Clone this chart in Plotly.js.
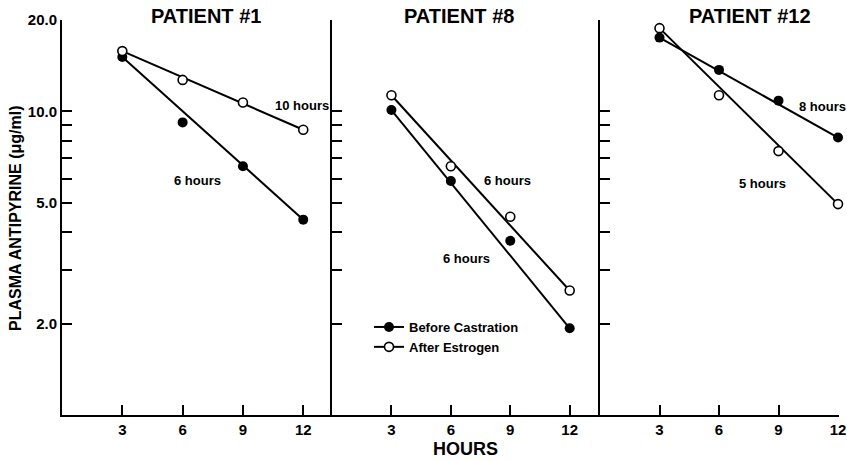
<!DOCTYPE html>
<html>
<head>
<meta charset="utf-8">
<script src="https://cdn.plot.ly/plotly-3.0.1.min.js"></script>
<style>html,body{margin:0;padding:0;background:#fff;}#chart{width:847px;height:461px;}</style>
</head>
<body>
<div id="chart"></div>
<script>
// ---- data ----
const hours = [3, 6, 9, 12];
const patients = ['PATIENT #1', 'PATIENT #8', 'PATIENT #12'];
const beforeP1 = [15.1, 9.2, 6.6, 4.4];
const afterP1 = [15.8, 12.7, 10.7, 8.7];
const beforeP8 = [10.1, 5.9, 3.75, 1.93];
const afterP8 = [11.3, 6.6, 4.5, 2.57];
const beforeP12 = [17.5, 13.7, 10.85, 8.2];
const afterP12 = [18.8, 11.3, 7.4, 4.95];
const halfLifeLabels = ['6 hours', '10 hours', '6 hours', '6 hours', '8 hours', '5 hours'];
const seriesNames = ['Before Castration', 'After Estrogen'];
const yTickVals = [2, 3, 4, 5, 6, 7, 8, 9, 10, 20];
const yTickText = ['2.0', '', '', '5.0', '', '', '', '', '10.0', '20.0'];
const xTickVals = [3, 6, 9, 12];

// ---- layout geometry ----
const W = 847, H = 461, L = 62, R = 8, T = 20, B = 46;
const PW = W - L - R, PH = H - T - B;
const px = x => (x - L) / PW;
const py = y => (H - B - y) / PH;
const FONT = 'Liberation Sans, Arial, sans-serif';

const beforeData = [beforeP1, beforeP8, beforeP12];
const afterData = [afterP1, afterP8, afterP12];
const panelEdges = [[62, 332], [332, 600], [600, W - R]];
const xRanges = [[0, 13.43], [0, 13.53], [0, 12.05]];

const filledMarker = {symbol: 'circle', size: 10, color: '#000'};
const openMarker = {symbol: 'circle', size: 9, color: '#fff', line: {color: '#000', width: 1.6}};
const lineStyle = {color: '#000', width: 2};

const traces = [];
for (let i = 0; i < 3; i++) {
  const xa = i === 0 ? 'x' : 'x' + (i + 1);
  const ya = i === 0 ? 'y' : 'y' + (i + 1);
  [beforeData[i], afterData[i]].forEach(vals => {
    traces.push({x: [hours[0], hours[hours.length - 1]], y: [vals[0], vals[vals.length - 1]],
      mode: 'lines', line: lineStyle, xaxis: xa, yaxis: ya, showlegend: false, hoverinfo: 'skip', cliponaxis: false});
  });
  traces.push({x: hours, y: beforeData[i], mode: 'markers', marker: filledMarker,
    xaxis: xa, yaxis: ya, showlegend: false, cliponaxis: false});
  traces.push({x: hours, y: afterData[i], mode: 'markers', marker: openMarker,
    xaxis: xa, yaxis: ya, showlegend: false, cliponaxis: false});
}
// legend entries
traces.push({x: [null], y: [null], mode: 'lines+markers', name: seriesNames[0],
  marker: filledMarker, line: lineStyle, xaxis: 'x2', yaxis: 'y2', showlegend: true});
traces.push({x: [null], y: [null], mode: 'lines+markers', name: seriesNames[1],
  marker: openMarker, line: lineStyle, xaxis: 'x2', yaxis: 'y2', showlegend: true});

const layout = {
  width: W, height: H,
  margin: {l: L, r: R, t: T, b: B, pad: 0},
  paper_bgcolor: '#fff', plot_bgcolor: '#fff',
  font: {family: FONT, color: '#000', size: 14, weight: 'bold'},
  showlegend: true,
  legend: {x: px(369), y: py(312), xanchor: 'left', yanchor: 'top', bgcolor: 'rgba(0,0,0,0)',
    font: {family: FONT, size: 13, weight: 'bold', color: '#000'}, itemwidth: 30, tracegroupgap: 0},
  annotations: [],
  hovermode: false
};

for (let i = 0; i < 3; i++) {
  const sfx = i === 0 ? '' : String(i + 1);
  layout['xaxis' + sfx] = {
    domain: [px(panelEdges[i][0]), px(panelEdges[i][1])],
    range: xRanges[i], anchor: 'y' + sfx,
    showline: true, linewidth: 2, linecolor: '#000', showgrid: false, zeroline: false,
    tickvals: xTickVals, ticktext: xTickVals.map(String),
    ticks: 'inside', ticklen: 10, tickwidth: 2, tickcolor: '#000',
    tickfont: {family: FONT, size: 15, weight: 'bold', color: '#000'}, ticklabelstandoff: 0
  };
  layout['yaxis' + sfx] = {
    type: 'log', range: [0, Math.log10(20)], anchor: 'x' + sfx, domain: [0, 1],
    showline: true, linewidth: 2, linecolor: '#000', showgrid: false, zeroline: false,
    tickvals: yTickVals, ticktext: yTickText, showticklabels: i === 0,
    ticks: 'inside', ticklen: 10, tickwidth: 2, tickcolor: '#000',
    tickfont: {family: FONT, size: 15, weight: 'bold', color: '#000'}, ticklabelstandoff: 0
  };
}

const titlePos = [[206, 16], [459, 16], [750, 16]];
patients.forEach((t, i) => {
  layout.annotations.push({text: t, xref: 'paper', yref: 'paper', x: px(titlePos[i][0]), y: py(titlePos[i][1]),
    xanchor: 'center', yanchor: 'middle', showarrow: false,
    font: {family: FONT, size: 20, weight: 'bold', color: '#000'}});
});
const labelPos = [[197, 180], [302, 105], [467, 258], [507, 181], [822, 107], [762, 183]];
halfLifeLabels.forEach((t, i) => {
  layout.annotations.push({text: t, xref: 'paper', yref: 'paper', x: px(labelPos[i][0]), y: py(labelPos[i][1]),
    xanchor: 'center', yanchor: 'middle', showarrow: false,
    font: {family: FONT, size: 13, weight: 'bold', color: '#000'}});
});
layout.annotations.push({text: 'HOURS', xref: 'paper', yref: 'paper', x: px(465), y: py(449),
  xanchor: 'center', yanchor: 'middle', showarrow: false,
  font: {family: FONT, size: 18, weight: 'bold', color: '#000'}});
layout.annotations.push({text: 'PLASMA ANTIPYRINE (\u03bcg/ml)', xref: 'paper', yref: 'paper', x: px(15), y: py(218),
  xanchor: 'center', yanchor: 'middle', textangle: -90, showarrow: false,
  font: {family: FONT, size: 16, weight: 'bold', color: '#000'}});

Plotly.newPlot('chart', traces, layout, {staticPlot: true, displayModeBar: false});
</script>
</body>
</html>
